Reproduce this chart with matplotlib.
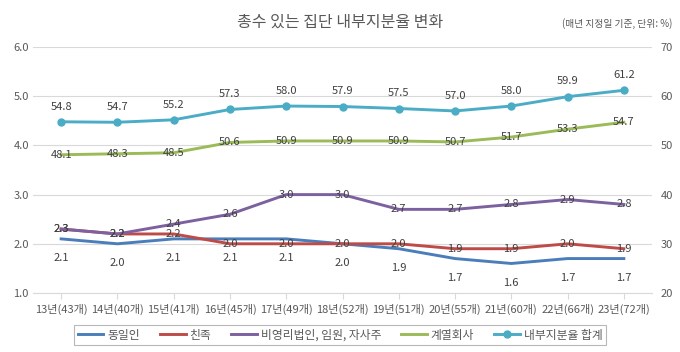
import matplotlib
matplotlib.use("Agg")
import matplotlib.pyplot as plt

plt.rcParams['font.family'] = ['Noto Sans CJK KR', 'DejaVu Sans']

categories = ["13년(43개)", "14년(40개)", "15년(41개)", "16년(45개)", "17년(49개)", "18년(52개)",
              "19년(51개)", "20년(55개)", "21년(60개)", "22년(66개)", "23년(72개)"]
owner = [2.1, 2.0, 2.1, 2.1, 2.1, 2.0, 1.9, 1.7, 1.6, 1.7, 1.7]
relatives = [2.3, 2.2, 2.2, 2.0, 2.0, 2.0, 2.0, 1.9, 1.9, 2.0, 1.9]
nonprofit = [2.3, 2.2, 2.4, 2.6, 3.0, 3.0, 2.7, 2.7, 2.8, 2.9, 2.8]
affiliates = [48.1, 48.3, 48.5, 50.6, 50.9, 50.9, 50.9, 50.7, 51.7, 53.3, 54.7]
total = [54.8, 54.7, 55.2, 57.3, 58.0, 57.9, 57.5, 57.0, 58.0, 59.9, 61.2]
left_ticks = [1.0, 2.0, 3.0, 4.0, 5.0, 6.0]
right_ticks = [20, 30, 40, 50, 60, 70]

c_owner = "#4A7EBB"
c_rel = "#BE4B48"
c_np = "#7D60A0"
c_aff = "#9BBB59"
c_tot = "#4BACC6"
txt = "#595959"
lab = "#404040"

fig = plt.figure(figsize=(6.8, 3.52), dpi=100)
ax = fig.add_axes([33/680, 1-293/352, (652-33)/680, (293-47)/352])
ax2 = ax.twinx()

x = list(range(len(categories)))
lw = 2.1
ax.plot(x, owner, color=c_owner, lw=lw, label="동일인", zorder=3)
ax.plot(x, relatives, color=c_rel, lw=lw, label="친족", zorder=3)
ax.plot(x, nonprofit, color=c_np, lw=lw, label="비영리법인, 임원, 자사주", zorder=4)
ax2.plot(x, affiliates, color=c_aff, lw=lw, label="계열회사", zorder=3)
ax2.plot(x, total, color=c_tot, lw=lw, marker="o", markersize=5, label="내부지분율 합계", zorder=3)

fs = 8
for i in x:
    ax.annotate(f"{owner[i]:.1f}", (i, owner[i]), xytext=(0, -14), textcoords="offset points",
                ha="center", va="center", fontsize=fs, color=lab)
    ax.annotate(f"{relatives[i]:.1f}", (i, relatives[i]), xytext=(0, 0), textcoords="offset points",
                ha="center", va="center", fontsize=fs, color=lab, zorder=5)
    ax.annotate(f"{nonprofit[i]:.1f}", (i, nonprofit[i]), xytext=(0, 0), textcoords="offset points",
                ha="center", va="center", fontsize=fs, color=lab, zorder=5)
    ax2.annotate(f"{affiliates[i]:.1f}", (i, affiliates[i]), xytext=(0, 0), textcoords="offset points",
                 ha="center", va="center", fontsize=fs, color=lab, zorder=5)
    ax2.annotate(f"{total[i]:.1f}", (i, total[i]), xytext=(0, 11), textcoords="offset points",
                 ha="center", va="center", fontsize=fs, color=lab)

ax.set_xlim(-0.5, len(categories) - 0.5)
ax.set_ylim(1.0, 6.0)
ax2.set_ylim(20, 70)
ax.set_yticks(left_ticks)
ax.set_yticklabels([f"{v:.1f}" for v in left_ticks])
ax2.set_yticks(right_ticks)
ax2.set_yticklabels([str(v) for v in right_ticks])
ax.set_xticks(x)
ax.set_xticklabels(categories)

ax.grid(axis="y", color="#D9D9D9", lw=0.8)
ax.set_axisbelow(True)
for a in (ax, ax2):
    for s in a.spines.values():
        s.set_visible(False)
ax.spines["bottom"].set_visible(True)
ax.spines["bottom"].set_color("#D9D9D9")
ax.tick_params(axis="y", length=0, labelsize=8, colors=txt, pad=3)
ax2.tick_params(axis="y", length=0, labelsize=8, colors=txt, pad=6)
ax.tick_params(axis="x", length=4, color="#D9D9D9", labelsize=8, labelcolor=txt, pad=4)

fig.text(0.5, 1-22/352, "총수 있는 집단 내부지분율 변화", ha="center", va="center",
         fontsize=11.5, color=txt)
fig.text(672/680, 1-24/352, "(매년 지정일 기준, 단위: %)", ha="right", va="center",
         fontsize=7, color=txt)

h1, l1 = ax.get_legend_handles_labels()
h2, l2 = ax2.get_legend_handles_labels()
leg = fig.legend(h1 + h2, l1 + l2, loc="center", bbox_to_anchor=(0.5, 1-335/352), ncol=5,
                 fontsize=8.5, frameon=True, fancybox=False, edgecolor="#A6A6A6",
                 handlelength=2.2, handletextpad=0.3, columnspacing=1.7, borderpad=0.3)
for t in leg.get_texts():
    t.set_color(txt)
leg.get_frame().set_linewidth(0.8)

fig.savefig("out.png", dpi=100, facecolor="white")
